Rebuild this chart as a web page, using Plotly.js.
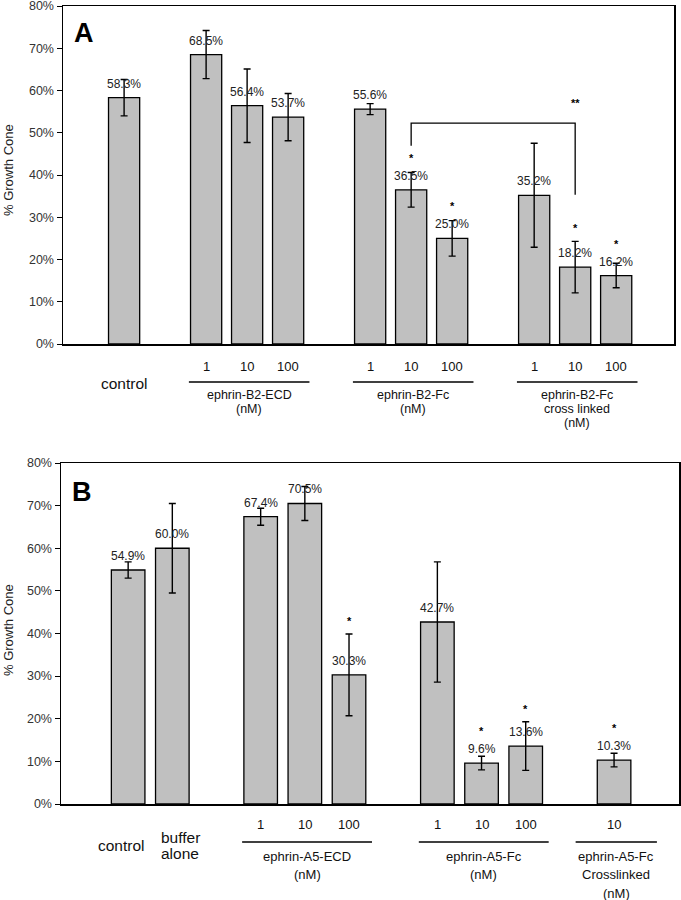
<!DOCTYPE html>
<html><head><meta charset="utf-8">
<script src="https://cdn.plot.ly/plotly-3.0.1.min.js"></script>
<style>body{margin:0;background:#fff}#chart{width:681px;height:900px}</style>
</head><body><div id="chart"></div>
<script>
// ---------- Panel A data ----------
const panelA_barLabels = ["control","1","10","100","1","10","100","1","10","100"];
const panelA_groupOf   = [0,1,1,1,2,2,2,3,3,3];
const panelA_groupNames = ["", "ephrin-B2-ECD\n(nM)", "ephrin-B2-Fc\n(nM)", "ephrin-B2-Fc\ncross linked\n(nM)"];
const panelA_values = [58.3,68.5,56.4,53.7,55.6,36.5,25.0,35.2,18.2,16.2];
const panelA_errors = [4.3,5.7,8.7,5.6,1.3,4.1,4.2,12.3,6.1,2.9];
const panelA_sig    = ["","","","","","*","*","","*","*"];
const panelA_bracket = {from:5, to:8, top:52.3, leftEnd:46.9, rightEnd:35.3, text:"**"};

// ---------- Panel B data ----------
const panelB_barLabels = ["control","buffer\nalone","1","10","100","1","10","100","10"];
const panelB_groupOf   = [0,0,1,1,1,2,2,2,3];
const panelB_groupNames = ["", "ephrin-A5-ECD\n(nM)", "ephrin-A5-Fc\n(nM)", "ephrin-A5-Fc\nCrosslinked\n(nM)"];
const panelB_values = [54.9,60.0,67.4,70.5,30.3,42.7,9.6,13.6,10.3];
const panelB_errors = [1.9,10.5,2.0,4.0,9.6,14.1,1.6,5.7,1.6];
const panelB_sig    = ["","","","","*","","*","*","*"];

const yTickVals = [0,10,20,30,40,50,60,70,80];

const W = 681, H = 900;
const FONT = "Arial, 'Liberation Sans', sans-serif";
const py = y => 1 - y / H;

const traces = [], annotations = [], shapes = [];

function panel(o) {
  const xs = o.labels.map((_, i) => i + o.groupOf[i]);
  const ppu = (o.bottom - o.top) / 80;
  traces.push({
    type: "bar", x: xs, y: o.values, xaxis: o.xa, yaxis: o.ya, width: 0.76,
    marker: {color: "#c0c0c0", line: {color: "#000", width: 1.3}},
    error_y: {type: "data", array: o.errors, visible: true, color: "#000", thickness: 1.4, width: 3.5},
    hoverinfo: "skip", showlegend: false
  });
  const xr = o.xa, yr = o.ya;
  let ctrlCount = 0;
  o.values.forEach((v, i) => {
    annotations.push({xref: xr, yref: yr, x: xs[i], y: v, yshift: 14, yanchor: "middle",
      text: v.toFixed(1) + "%", showarrow: false, font: {family: FONT, size: 12, color: "#222"}});
    if (o.sig[i]) {
      const sh = Math.max(o.errors[i] * ppu + 13, 32);
      annotations.push({xref: xr, yref: yr, x: xs[i], y: v, yanchor: "middle", yshift: sh, borderpad: 0,
        text: "<b>" + o.sig[i] + "</b>", showarrow: false, font: {family: FONT, size: 11, color: "#000"}});
    }
    if (o.groupOf[i] === 0) {
      const lines = o.labels[i].split("\n");
      const xsh = o.ctrlShift[ctrlCount++] || 0;
      lines.forEach((t, k) => {
        annotations.push({xref: xr, yref: "paper", x: xs[i], xshift: xsh,
          y: py(o.ctrlRow - (lines.length - 1) * o.ctrlLine / 2 + k * o.ctrlLine),
          yanchor: "middle", text: t, showarrow: false, font: {family: FONT, size: o.ctrlSize, color: "#111"}});
      });
    } else {
      annotations.push({xref: xr, yref: "paper", x: xs[i], y: py(o.doseRow), yanchor: "middle",
        text: o.labels[i], showarrow: false, font: {family: FONT, size: o.doseSize, color: "#111"}});
    }
  });
  o.groupNames.forEach((name, g) => {
    if (!name) return;
    const idx = o.groupOf.map((gg, i) => gg === g ? i : -1).filter(i => i >= 0);
    const x0 = xs[idx[0]], x1 = xs[idx[idx.length - 1]];
    const c = (x0 + x1) / 2 + 0.05, hw = Math.max((x1 - x0) / 2 + 0.47, 0.92);
    shapes.push({type: "line", xref: xr, yref: "paper", x0: c - hw, x1: c + hw, y0: py(o.lineRow), y1: py(o.lineRow),
      line: {color: "#000", width: 1.3}});
    name.split("\n").forEach((t, k) => {
      annotations.push({xref: xr, yref: "paper", x: c, y: py(o.groupRow + k * o.groupLine), yanchor: "middle",
        text: t, showarrow: false, font: {family: FONT, size: o.groupSize, color: "#111"}});
    });
  });
  annotations.push({xref: "paper", yref: "paper", x: o.letterX / W, y: py(o.letterY), xanchor: "center", yanchor: "middle",
    text: "<b>" + o.letter + "</b>", showarrow: false, font: {family: FONT, size: 27, color: "#000"}});
  annotations.push({xref: "paper", yref: "paper", x: 8 / W, y: py(o.titleY), xanchor: "center", yanchor: "middle",
    textangle: -90, text: "% Growth Cone", showarrow: false, font: {family: FONT, size: 13, color: "#222"}});
  if (o.bracket) {
    const b = o.bracket, bx0 = xs[b.from], bx1 = xs[b.to];
    shapes.push({type: "path", xref: xr, yref: yr,
      path: `M ${bx0},${b.leftEnd} L ${bx0},${b.top} L ${bx1},${b.top} L ${bx1},${b.rightEnd}`,
      line: {color: "#000", width: 1.3}});
    annotations.push({xref: xr, yref: yr, x: bx1, y: b.top, yshift: 20, yanchor: "middle", text: "<b>" + b.text + "</b>",
      showarrow: false, font: {family: FONT, size: 11, color: "#000"}});
  }
}

panel({labels: panelA_barLabels, groupOf: panelA_groupOf, groupNames: panelA_groupNames, values: panelA_values,
  errors: panelA_errors, sig: panelA_sig, xa: "x", ya: "y", top: 6, bottom: 344,
  doseRow: 366, doseSize: 13, ctrlRow: 383, ctrlLine: 16, ctrlSize: 15.5,
  ctrlShift: [0], lineRow: 382, groupRow: 395, groupLine: 14, groupSize: 12.5, letter: "A", letterX: 84, letterY: 33, titleY: 170,
  bracket: panelA_bracket});
panel({labels: panelB_barLabels, groupOf: panelB_groupOf, groupNames: panelB_groupNames, values: panelB_values,
  errors: panelB_errors, sig: panelB_sig, xa: "x2", ya: "y2", top: 463, bottom: 804,
  doseRow: 824, doseSize: 13, ctrlRow: 845, ctrlLine: 16, ctrlSize: 15.5,
  ctrlShift: [-7, 8], lineRow: 842, groupRow: 856, groupLine: 18.5, groupSize: 13, letter: "B", letterX: 82, letterY: 492, titleY: 630});

function xaxis(dom, range, anchor) {
  return {domain: dom, range: range, anchor: anchor, showline: true, mirror: true, linecolor: "#000", linewidth: 1.5,
    showticklabels: false, ticks: "", showgrid: false, zeroline: false, fixedrange: true};
}
function yaxis(dom, anchor) {
  return {domain: dom, range: [0, 80], anchor: anchor, tickvals: yTickVals, ticktext: yTickVals.map(v => v + "%"),
    ticks: "outside", ticklen: 5, tickcolor: "#000", tickwidth: 1, showline: true, mirror: true, linecolor: "#000",
    linewidth: 1.5, showgrid: false, zeroline: false, fixedrange: true, ticklabeloverflow: "allow",
    tickfont: {family: FONT, size: 12.5, color: "#333"}};
}

const layout = {
  width: W, height: H, margin: {l: 0, r: 0, t: 0, b: 0}, paper_bgcolor: "#fff", plot_bgcolor: "#fff",
  showlegend: false, font: {family: FONT},
  xaxis: xaxis([63 / W, 674 / W], [-1.49, 13.41], "y"),
  yaxis: yaxis([py(344), py(6)], "x"),
  xaxis2: xaxis([61 / W, 679 / W], [-1.52, 12.47], "y2"),
  yaxis2: yaxis([py(804), py(463)], "x2"),
  annotations: annotations, shapes: shapes, bargap: 0
};

Plotly.newPlot("chart", traces, layout, {staticPlot: true, displayModeBar: false});
</script></body></html>
